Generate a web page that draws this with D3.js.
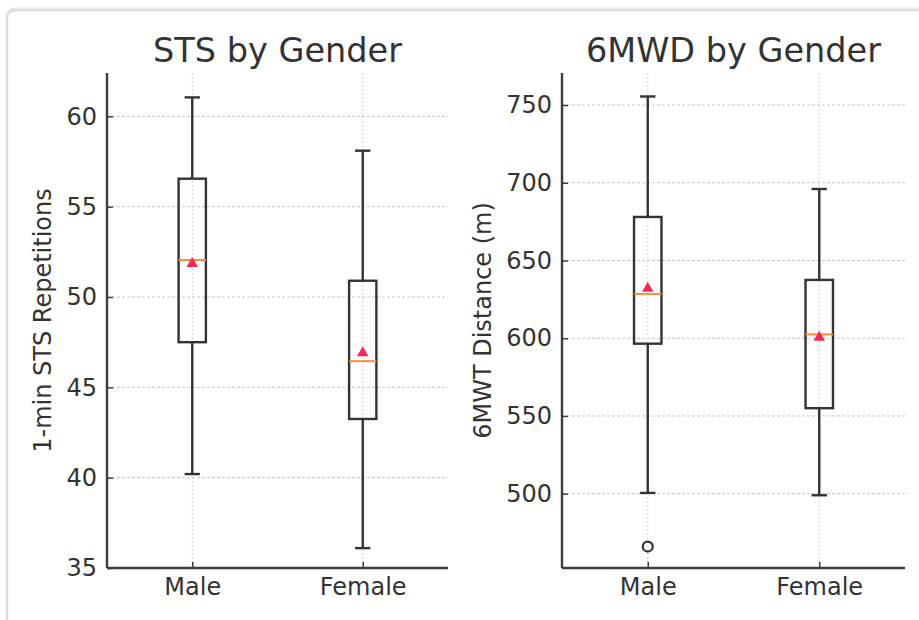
<!DOCTYPE html>
<html>
<head>
<meta charset="utf-8">
<script src="https://cdn.jsdelivr.net/npm/d3@7"></script>
<style>
  body { margin: 0; background: #fff; }
  svg text { font-family: "DejaVu Sans", sans-serif; fill: #333; }
</style>
</head>
<body>
<script>
// box plot summaries

var categories = ["Male", "Female"];

// STS panel (1-min STS repetitions)
var stsWhiskerLow = [40.2, 36.1];
var stsQ1 = [47.5, 43.25];
var stsMedian = [52.05, 46.45];
var stsQ3 = [56.55, 50.9];
var stsWhiskerHigh = [61.05, 58.1];
var stsMean = [51.85, 46.9];
var stsOutliers = [[], []];
var stsTicks = [35, 40, 45, 50, 55, 60];
var stsDomain = [35, 62.4];

// 6MWD panel (metres)
var mwdWhiskerLow = [500.5, 499];
var mwdQ1 = [596.5, 555];
var mwdMedian = [628.5, 602.5];
var mwdQ3 = [678, 637.5];
var mwdWhiskerHigh = [755.5, 696];
var mwdMean = [632, 600.5];
var mwdOutliers = [[466], []];
var mwdTicks = [500, 550, 600, 650, 700, 750];
var mwdDomain = [452.2, 770.6];

var width = 919, height = 620;

var svg = d3.select("body")
    .append("svg")
    .attr("width", width)
    .attr("height", height);

// card background with soft shadow
var defs = svg.append("defs");
var shadow = defs.append("filter")
    .attr("id", "cardShadow")
    .attr("x", "-5%").attr("y", "-5%")
    .attr("width", "110%").attr("height", "110%");
shadow.append("feDropShadow")
    .attr("dx", 0).attr("dy", -1)
    .attr("stdDeviation", 1.6)
    .attr("flood-color", "#000")
    .attr("flood-opacity", 0.22);

svg.append("rect")
    .attr("x", 7.5).attr("y", 10.5)
    .attr("width", 1000).attr("height", 800)
    .attr("rx", 7)
    .attr("fill", "#fff")
    .attr("stroke", "#d6d6d6")
    .attr("stroke-width", 1.5)
    .attr("filter", "url(#cardShadow)");

//build one box plot panel
function drawPanel(opt){
    var g = svg.append("g");

    var x = d3.scaleLinear()
        .domain([0.5, 2.5])
        .range([opt.left, opt.right]);

    var y = d3.scaleLinear()
        .domain(opt.domain)
        .range([opt.bottom, opt.top]);

    var boxWidth = 0.16, capWidth = 0.09;

    //grid lines
    g.selectAll(".hgrid")
        .data(opt.ticks)
        .enter()
        .append("line")
        .attr("x1", opt.left).attr("x2", opt.right)
        .attr("y1", function(d){ return y(d); })
        .attr("y2", function(d){ return y(d); })
        .attr("stroke", "#c4c4c4")
        .attr("stroke-width", 1)
        .attr("stroke-dasharray", "3,2");

    g.selectAll(".vgrid")
        .data(categories)
        .enter()
        .append("line")
        .attr("x1", function(d, i){ return x(i + 1); })
        .attr("x2", function(d, i){ return x(i + 1); })
        .attr("y1", opt.top).attr("y2", opt.bottom)
        .attr("stroke", "#d4d4d4")
        .attr("stroke-width", 1)
        .attr("stroke-dasharray", "2,2");

    //axes (ticks pointing inward)
    var yAxis = g.append("g")
        .attr("transform", "translate(" + opt.left + ",0)")
        .call(d3.axisLeft(y).tickValues(opt.ticks).tickSizeInner(-6).tickSizeOuter(0).tickPadding(10));

    var xAxis = g.append("g")
        .attr("transform", "translate(0," + opt.bottom + ")")
        .call(d3.axisBottom(x).tickValues([1, 2])
            .tickFormat(function(d){ return categories[d - 1]; })
            .tickSizeInner(-6).tickSizeOuter(0).tickPadding(10));

    [yAxis, xAxis].forEach(function(ax){
        ax.select(".domain").attr("stroke", "#3d3d3d").attr("stroke-width", 2.4);
        ax.selectAll(".tick line").attr("stroke", "#3d3d3d").attr("stroke-width", 1.5);
        ax.selectAll(".tick text")
            .attr("font-size", 24)
            .attr("font-family", "DejaVu Sans, sans-serif")
            .attr("fill", "#383838");
    });
    // extend y spine to top of the panel
    yAxis.select(".domain").attr("d", "M0," + opt.bottom + "V" + opt.top);
    xAxis.select(".domain").attr("d", "M" + opt.left + ",0H" + opt.right);

    //boxes
    categories.forEach(function(cat, i){
        var cx = x(i + 1);
        var bw = x(1 + boxWidth) - x(1);
        var cw = x(1 + capWidth) - x(1);
        var stroke = "#333", sw = 2.4;

        //whiskers
        g.append("line")
            .attr("x1", cx).attr("x2", cx)
            .attr("y1", y(opt.q3[i])).attr("y2", y(opt.hi[i]))
            .attr("stroke", stroke).attr("stroke-width", sw);
        g.append("line")
            .attr("x1", cx).attr("x2", cx)
            .attr("y1", y(opt.q1[i])).attr("y2", y(opt.lo[i]))
            .attr("stroke", stroke).attr("stroke-width", sw);

        //caps
        [opt.hi[i], opt.lo[i]].forEach(function(v){
            g.append("line")
                .attr("x1", cx - cw / 2).attr("x2", cx + cw / 2)
                .attr("y1", y(v)).attr("y2", y(v))
                .attr("stroke", stroke).attr("stroke-width", sw);
        });

        //box
        g.append("rect")
            .attr("x", cx - bw / 2)
            .attr("y", y(opt.q3[i]))
            .attr("width", bw)
            .attr("height", y(opt.q1[i]) - y(opt.q3[i]))
            .attr("fill", "none")
            .attr("stroke", stroke)
            .attr("stroke-width", sw);

        //median
        g.append("line")
            .attr("x1", cx - bw / 2).attr("x2", cx + bw / 2)
            .attr("y1", y(opt.median[i])).attr("y2", y(opt.median[i]))
            .attr("stroke", "#ff8a3d")
            .attr("stroke-width", 2);

        //mean marker
        g.append("path")
            .attr("d", d3.symbol().type(d3.symbolTriangle).size(58)())
            .attr("transform", "translate(" + cx + "," + y(opt.mean[i]) + ")")
            .attr("fill", "#f52a55");

        //outliers
        opt.outliers[i].forEach(function(v){
            g.append("circle")
                .attr("cx", cx).attr("cy", y(v))
                .attr("r", 5)
                .attr("fill", "none")
                .attr("stroke", stroke)
                .attr("stroke-width", 2.2);
        });
    });

    //title
    g.append("text")
        .attr("x", (opt.left + opt.right) / 2)
        .attr("y", 62)
        .attr("text-anchor", "middle")
        .attr("font-size", 33.5)
        .attr("fill", "#383838")
        .text(opt.title);

    //y label
    g.append("text")
        .attr("transform", "translate(" + opt.labelX + "," + ((opt.top + opt.bottom) / 2) + ") rotate(-90)")
        .attr("text-anchor", "middle")
        .attr("dy", "0.35em")
        .attr("font-size", 24)
        .attr("fill", "#383838")
        .text(opt.ylabel);
}

drawPanel({
    left: 107, right: 448, top: 73, bottom: 568,
    domain: stsDomain, ticks: stsTicks,
    lo: stsWhiskerLow, q1: stsQ1, median: stsMedian, q3: stsQ3, hi: stsWhiskerHigh,
    mean: stsMean, outliers: stsOutliers,
    title: "STS by Gender", ylabel: "1-min STS Repetitions", labelX: 43
});

drawPanel({
    left: 562, right: 905, top: 73, bottom: 568,
    domain: mwdDomain, ticks: mwdTicks,
    lo: mwdWhiskerLow, q1: mwdQ1, median: mwdMedian, q3: mwdQ3, hi: mwdWhiskerHigh,
    mean: mwdMean, outliers: mwdOutliers,
    title: "6MWD by Gender", ylabel: "6MWT Distance (m)", labelX: 483
});
</script>
</body>
</html>
